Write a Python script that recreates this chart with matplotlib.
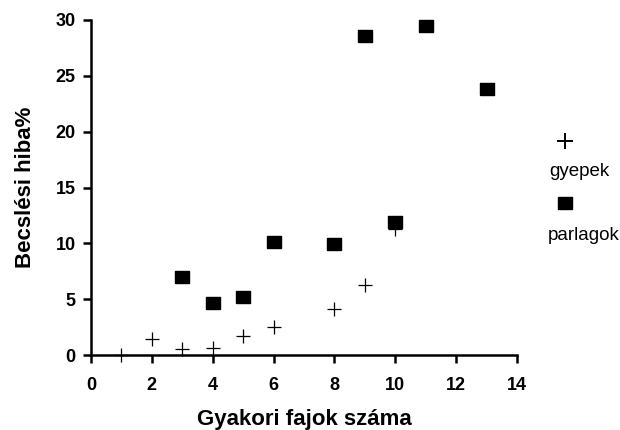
import matplotlib
matplotlib.use("Agg")
import matplotlib.pyplot as plt

plt.rcParams['font.family'] = ['Liberation Sans', 'DejaVu Sans']

gyepek_x = [1, 2, 3, 4, 5, 6, 8, 9, 10]
gyepek_y = [0.0, 1.4, 0.5, 0.6, 1.7, 2.5, 4.1, 6.3, 11.3]
parlagok_x = [3, 4, 5, 6, 8, 9, 10, 11, 13]
parlagok_y = [7.0, 4.7, 5.2, 10.1, 9.9, 28.6, 11.9, 29.5, 23.8]
xticks = [0, 2, 4, 6, 8, 10, 12, 14]
yticks = [0, 5, 10, 15, 20, 25, 30]
series_names = ['gyepek', 'parlagok']

rect = [(-1.25, -1), (1.25, -1), (1.25, 1), (-1.25, 1), (-1.25, -1)]

fig = plt.figure(figsize=(6.2, 4.3), dpi=100)
ax = fig.add_axes([91/620, 75/430, 426/620, 335/430])

ax.plot(gyepek_x, gyepek_y, linestyle='none', marker='+', markersize=10,
        markeredgewidth=0.9, color='black', clip_on=False)
ax.plot(parlagok_x, parlagok_y, linestyle='none', marker=rect, markersize=10.5,
        color='black', clip_on=False)

ax.set_xlim(0, 14)
ax.set_ylim(0, 30)
ax.set_xticks(xticks)
ax.set_yticks(yticks)
for s in ['top', 'right']:
    ax.spines[s].set_visible(False)
for s in ['left', 'bottom']:
    ax.spines[s].set_linewidth(1.8)
ax.tick_params(direction='out', length=6, width=1.8, labelsize=13, pad=5)
ax.tick_params(axis='x', pad=10)
for lbl in ax.get_xticklabels() + ax.get_yticklabels():
    lbl.set_fontweight('bold')

ax.set_xlabel('Gyakori fajok száma', fontsize=16, fontweight='bold', labelpad=11)
ax.set_ylabel('Becslési hiba%', fontsize=16, fontweight='bold', labelpad=14)

# legend (markers above labels, as in the reference)
fig.lines.append(plt.Line2D([565/620], [1 - 141/430], transform=fig.transFigure,
                            marker='+', markersize=11, markeredgewidth=1.4,
                            color='black', linestyle='none'))
fig.text(549/620, 1 - 172/430, series_names[0], fontsize=13.5, va='center', ha='left')
fig.lines.append(plt.Line2D([565/620], [1 - 203/430], transform=fig.transFigure,
                            marker=rect, markersize=10.5, color='black',
                            linestyle='none'))
fig.text(548/620, 1 - 236/430, series_names[1], fontsize=13.5, va='center', ha='left')

fig.savefig('out.png', dpi=100)
